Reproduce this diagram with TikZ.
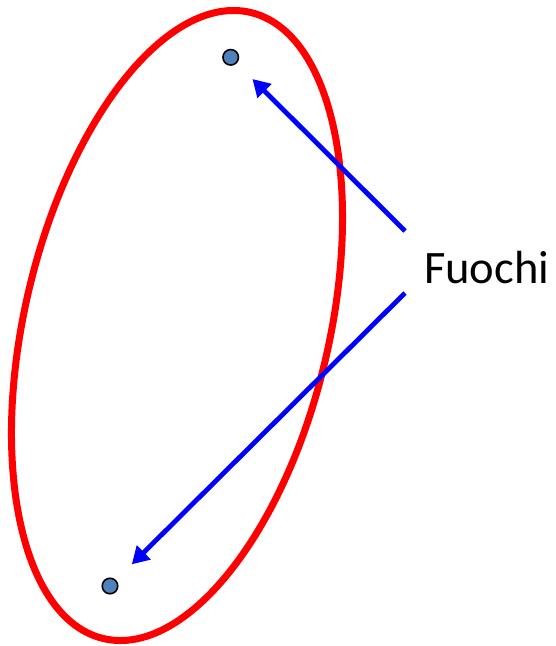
\documentclass[tikz,border=0pt]{standalone}
\usepackage{fontspec}
\setmainfont{Carlito}
\usetikzlibrary{arrows.meta,positioning}
\definecolor{ringred}{HTML}{FF0000}
\definecolor{pointer}{HTML}{0000FF}
\definecolor{focusfill}{HTML}{4F81BD}
\tikzset{
  ring/.style={draw=ringred,line width=7pt},
  focus/.style={circle,draw=black,line width=1.6pt,fill=focusfill,minimum size=15.5pt,inner sep=0pt,outer sep=0pt},
  pointarrow/.style={-{Triangle[length=17pt,width=19pt]},line width=4.8pt,pointer,shorten >=23pt},
  tag/.style={font=\fontsize{46.5}{54}\selectfont,text=black,inner sep=0pt}
}
\begin{document}
\begin{tikzpicture}[x=1pt,y=1pt]
    \useasboundingbox (0,0) rectangle (555,-646);
    \draw[ring,rotate around={76.78:(177,-325.5)}] (177,-325.5) ellipse [x radius=321.6,y radius=152.3];
    \node[focus] (upper) at (230.7,-57.3) {};
    \node[focus] (lower) at (110,-586) {};
    \node[tag,anchor=base west] (label) at (424,-283) {Fuochi};
    \coordinate (fromup) at ([xshift=-19pt,yshift=52pt]label.base west);
    \coordinate (fromlow) at ([xshift=-19pt,yshift=-10pt]label.base west);
    \draw[pointarrow] (fromup) -- (upper);
    \draw[pointarrow] (fromlow) -- (lower);
  \end{tikzpicture}
\end{document}
